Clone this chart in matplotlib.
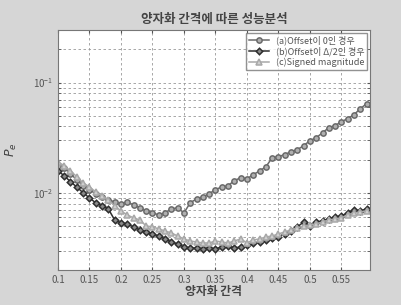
import matplotlib
matplotlib.use("Agg")
import matplotlib.pyplot as plt
from matplotlib.ticker import LogLocator, NullFormatter, FixedLocator

plt.rcParams['font.family'] = ['Noto Sans CJK KR', 'DejaVu Sans']

# quantization step (x) and error probability for each case
step = [0.10, 0.11, 0.12, 0.13, 0.14, 0.15, 0.16, 0.17, 0.18, 0.19,
        0.20, 0.21, 0.22, 0.23, 0.24, 0.25, 0.26, 0.27, 0.28, 0.29,
        0.30, 0.31, 0.32, 0.33, 0.34, 0.35, 0.36, 0.37, 0.38, 0.39,
        0.40, 0.41, 0.42, 0.43, 0.44, 0.45, 0.46, 0.47, 0.48, 0.49,
        0.50, 0.51, 0.52, 0.53, 0.54, 0.55, 0.56, 0.57, 0.58, 0.59]

pe_offset0 = [0.0176, 0.0169, 0.0149, 0.0131, 0.0116, 0.0107, 0.00979, 0.00920, 0.00864, 0.00828,
              0.00794, 0.00828, 0.00778, 0.00731, 0.00686, 0.00658, 0.00631, 0.00658, 0.00716, 0.00731,
              0.00658, 0.00811, 0.00882, 0.00920, 0.00979, 0.0107, 0.0113, 0.0116, 0.0129, 0.0137,
              0.0134, 0.0146, 0.0158, 0.0172, 0.0208, 0.0213, 0.0222, 0.0236, 0.0246, 0.0268,
              0.0297, 0.0316, 0.0351, 0.0390, 0.0407, 0.0442, 0.0471, 0.0512, 0.0580, 0.0644]

pe_offset_half = [0.0158, 0.0143, 0.0126, 0.0113, 0.0100, 0.00901, 0.00811, 0.00762, 0.00716, 0.00568,
                  0.00534, 0.00523, 0.00491, 0.00461, 0.00442, 0.00424, 0.00406, 0.00382, 0.00358, 0.00344,
                  0.00323, 0.00316, 0.00316, 0.00310, 0.00316, 0.00310, 0.00323, 0.00330, 0.00316, 0.00323,
                  0.00337, 0.00351, 0.00358, 0.00374, 0.00390, 0.00398, 0.00424, 0.00451, 0.00491, 0.00545,
                  0.00501, 0.00545, 0.00556, 0.00580, 0.00605, 0.00618, 0.00658, 0.00701, 0.00686, 0.00716]

pe_signed = [0.0191, 0.0176, 0.0158, 0.0140, 0.0123, 0.0113, 0.0102, 0.00939, 0.00864, 0.00762,
             0.00686, 0.00631, 0.00593, 0.00568, 0.00501, 0.00491, 0.00471, 0.00451, 0.00433, 0.00406,
             0.00382, 0.00366, 0.00358, 0.00351, 0.00351, 0.00366, 0.00358, 0.00351, 0.00366, 0.00382,
             0.00351, 0.00374, 0.00382, 0.00398, 0.00406, 0.00424, 0.00442, 0.00461, 0.00481, 0.00501,
             0.00512, 0.00523, 0.00545, 0.00568, 0.00580, 0.00593, 0.00631, 0.00658, 0.00672, 0.00686]

labels = ["(a)Offset이 0인 경우", "(b)Offset이 Δ/2인 경우", "(c)Signed magnitude"]
xticks = [0.1, 0.15, 0.2, 0.25, 0.3, 0.35, 0.4, 0.45, 0.5, 0.55]
xtick_labels = ["0.1", "0.15", "0.2", "0.25", "0.3", "0.35", "0.4", "0.45", "0.5", "0.55"]

fig = plt.figure(figsize=(4.02, 3.05), dpi=100, facecolor="#d6d6d6")
ax = fig.add_axes([0.144, 0.115, 0.776, 0.787])
ax.set_facecolor("white")

ax.plot(step, pe_offset0, "-o", color="#6a6a6a", lw=1.1, ms=3.8, mfc="#b0b0b0", mew=1.1, label=labels[0])
ax.plot(step, pe_offset_half, "-D", color="#2e2e2e", lw=1.1, ms=3.3, mfc="#8a8a8a", mew=1.1, label=labels[1])
ax.plot(step, pe_signed, "-^", color="#a8a8a8", lw=1.1, ms=3.8, mfc="#d0d0d0", mew=1.1, label=labels[2])

ax.set_yscale("log")
ax.set_ylim(0.002, 0.3)
ax.set_xlim(0.1, 0.595)
ax.xaxis.set_major_locator(FixedLocator(xticks))
ax.set_xticklabels(xtick_labels)
ax.yaxis.set_major_locator(LogLocator(base=10))
ax.yaxis.set_minor_locator(LogLocator(base=10, subs=range(2, 10)))
ax.yaxis.set_minor_formatter(NullFormatter())

ax.grid(True, which="major", ls=(0, (3, 3)), color="#999999", lw=0.6)
ax.grid(True, which="minor", axis="y", ls=(0, (3, 3)), color="#999999", lw=0.6)

ax.tick_params(which="both", direction="in", labelsize=7, colors="#555555", length=2,
               top=True, right=True)
for s in ax.spines.values():
    s.set_color("#777777")

ax.set_title("양자화 간격에 따른 성능분석", fontsize=9, fontweight="bold", color="#444444", pad=5)
ax.set_xlabel("양자화 간격", fontsize=8.5, fontweight="bold", color="#444444", labelpad=0)
ax.set_ylabel(r"$P_e$", fontsize=9, color="#444444", labelpad=10)

leg = ax.legend(loc="upper right", fontsize=6.5, frameon=True, fancybox=False,
                edgecolor="#777777", borderpad=0.3, handlelength=2.2, labelspacing=0.15,
                borderaxespad=0.3)
for t in leg.get_texts():
    t.set_color("#555555")

fig.savefig("out.png", dpi=100, facecolor=fig.get_facecolor())
